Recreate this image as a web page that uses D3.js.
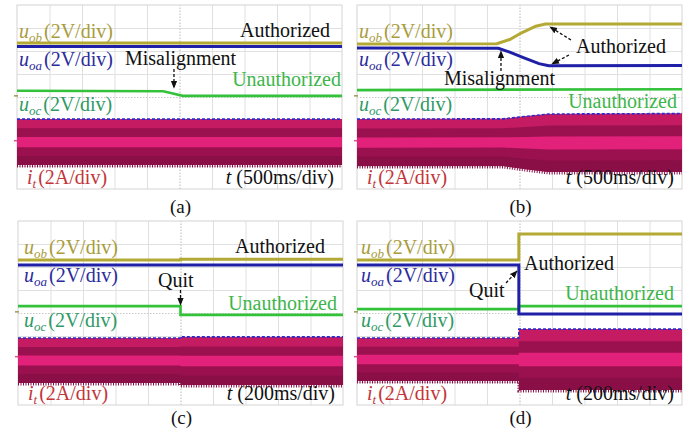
<!DOCTYPE html>
<html>
<head>
<meta charset="utf-8">
<script src="https://cdn.jsdelivr.net/npm/d3@7"></script>
<style>
  body { margin: 0; background: #fff; }
  text { font-family: "Liberation Serif", "Times New Roman", serif; }
</style>
</head>
<body>
<div id="chart"></div>
<script>
// Scope traces, in screen divisions: t runs 0..10 across, v runs -4..4 about the centre line

// (a) misalignment, 500ms/div
const aUobT = [0, 10], aUobV = [2.35, 2.35];
const aUoaT = [0, 10], aUoaV = [2.2, 2.2];
const aUocT = [0, 4.5, 4.8, 5.1, 10], aUocV = [0.27, 0.25, 0.15, 0.05, 0.05];
const aItT = [0, 10], aItTop = [-0.96, -0.96], aItBot = [-2.96, -2.96];

// (b) misalignment, 500ms/div
const bUobT = [0, 4.3, 4.7, 5.05, 5.5, 5.8, 10], bUobV = [2.3, 2.32, 2.5, 2.78, 3.08, 3.17, 3.17];
const bUoaT = [0, 4.35, 4.7, 5.1, 5.6, 5.9, 10], bUoaV = [2.13, 2.12, 1.95, 1.72, 1.45, 1.36, 1.37];
const bUocT = [0, 10], bUocV = [0.3, 0.34];
const bItT = [0, 4.5, 5.2, 5.9, 10], bItTop = [-0.96, -0.95, -0.84, -0.74, -0.72], bItBot = [-3.0, -3.0, -3.14, -3.26, -3.26];

// (c) quit, 200ms/div
const cUobT = [0, 5.0, 5.0, 10], cUobV = [2.3, 2.3, 2.34, 2.34];
const cUoaT = [0, 10], cUoaV = [2.09, 2.09];
const cUocT = [0, 5.0, 5.0, 10], cUocV = [0.3, 0.3, -0.08, -0.08];
const cItT = [0, 5.0, 5.0, 10], cItTop = [-1.09, -1.09, -1.04, -1.04], cItBot = [-3.04, -3.04, -3.13, -3.13];

// (d) quit, 200ms/div
const dUobT = [0, 4.98, 4.98, 10], dUobV = [2.3, 2.3, 3.43, 3.43];
const dUoaT = [0, 4.98, 4.98, 10], dUoaV = [2.09, 2.09, -0.04, -0.04];
const dUocT = [0, 4.98, 4.98, 10], dUocV = [0.17, 0.17, 0.3, 0.3];
const dItT = [0, 4.98, 4.98, 10], dItTop = [-1.09, -1.09, -0.7, -0.7], dItBot = [-2.96, -2.96, -3.35, -3.35];

const timeLabels = ["500ms/div", "500ms/div", "200ms/div", "200ms/div"];
const captions = ["(a)", "(b)", "(c)", "(d)"];

const zip = (t, v) => t.map((d, i) => [d, v[i]]);
const band = (t, top, bot) => t.map((d, i) => ({ t: d, top: top[i], bot: bot[i] }));

const panels = [
  { x0: 17, y0: 5, uob: zip(aUobT, aUobV), uoa: zip(aUoaT, aUoaV), uoc: zip(aUocT, aUocV), it: band(aItT, aItTop, aItBot) },
  { x0: 357, y0: 5, uob: zip(bUobT, bUobV), uoa: zip(bUoaT, bUoaV), uoc: zip(bUocT, bUocV), it: band(bItT, bItTop, bItBot) },
  { x0: 18, y0: 221, uob: zip(cUobT, cUobV), uoa: zip(cUoaT, cUoaV), uoc: zip(cUocT, cUocV), it: band(cItT, cItTop, cItBot) },
  { x0: 357, y0: 221, uob: zip(dUobT, dUobV), uoa: zip(dUoaT, dUoaV), uoc: zip(dUocT, dUocV), it: band(dItT, dItTop, dItBot) }
];
const pw = 325, ph = 184;

const svg = d3.select("#chart").append("svg")
    .attr("width", 699)
    .attr("height", 433);

// arrow head for the dashed pointers
svg.append("defs").append("marker")
    .attr("id", "head")
    .attr("viewBox", "0 0 10 10")
    .attr("refX", 9).attr("refY", 5)
    .attr("markerWidth", 6).attr("markerHeight", 6)
    .attr("orient", "auto")
  .append("path")
    .attr("d", "M0,1 L10,5 L0,9 Z")
    .attr("fill", "#111");

const font = 20;

function scopeLabel(g, x, y, sym, sub, rest, color) {
  const t = g.append("text")
      .attr("x", x).attr("y", y)
      .attr("font-size", font)
      .attr("fill", color);
  t.append("tspan").attr("font-style", "italic").text(sym);
  t.append("tspan").attr("font-style", "italic").attr("font-size", 13).attr("dy", 4).text(sub);
  t.append("tspan").attr("dy", -4).attr("dx", 2).text(rest);
  return t;
}

function plainText(g, x, y, txt, color, anchor) {
  return g.append("text")
      .attr("x", x).attr("y", y)
      .attr("font-size", font)
      .attr("fill", color)
      .attr("text-anchor", anchor || "start")
      .text(txt);
}

function pointer(g, x1, y1, x2, y2) {
  g.append("line")
      .attr("x1", x1).attr("y1", y1)
      .attr("x2", x2).attr("y2", y2)
      .attr("stroke", "#111")
      .attr("stroke-width", 1.3)
      .attr("stroke-dasharray", "3,2")
      .attr("marker-end", "url(#head)");
}

panels.forEach((p, k) => {
  const x = d3.scaleLinear().domain([0, 10]).range([p.x0, p.x0 + pw]);
  const y = d3.scaleLinear().domain([-4, 4]).range([p.y0 + ph, p.y0]);
  const g = svg.append("g");

  // graticule
  g.append("g")
      .attr("transform", "translate(0," + (p.y0 + ph) + ")")
      .call(d3.axisBottom(x).tickValues(d3.range(1, 10)).tickSize(-ph).tickFormat(""))
      .call(a => a.select(".domain").remove())
      .call(a => a.selectAll("line")
          .attr("stroke", d => d === 5 ? "#b8b8b8" : "#e0e0e0")
          .attr("stroke-dasharray", d => d === 5 ? "1.5,1.5" : null));
  g.append("g")
      .attr("transform", "translate(" + p.x0 + ",0)")
      .call(d3.axisLeft(y).tickValues(d3.range(-3, 4)).tickSize(-pw).tickFormat(""))
      .call(a => a.select(".domain").remove())
      .call(a => a.selectAll("line")
          .attr("stroke", d => d === 0 ? "#c8c8c8" : "#e0e0e0")
          .attr("stroke-dasharray", d => d === 0 ? "1.5,1.5" : null));
  g.append("rect")
      .attr("x", p.x0).attr("y", p.y0)
      .attr("width", pw).attr("height", ph)
      .attr("fill", "none")
      .attr("stroke", "#d4d4d4");

  // channel level markers on the left edge
  g.append("line")
      .attr("x1", p.x0 - 3).attr("x2", p.x0 + 1)
      .attr("y1", y(0.05)).attr("y2", y(0.05))
      .attr("stroke", "#9a9a50").attr("stroke-width", 1.5);
  g.append("line")
      .attr("x1", p.x0 - 3).attr("x2", p.x0 + 1)
      .attr("y1", y(-1.9)).attr("y2", y(-1.9))
      .attr("stroke", "#e0508a").attr("stroke-width", 1.5);

  // current i_t: dense carrier drawn as a filled envelope
  const span = d => d.top - d.bot;
  const area = (lo, hi) => d3.area()
      .x(d => x(d.t))
      .y0(d => y(lo(d)))
      .y1(d => y(hi(d)));
  g.append("path").datum(p.it)
      .attr("fill", "#9b1150")
      .attr("d", area(d => d.bot, d => d.top));
  g.append("path").datum(p.it)
      .attr("fill", "#8a0f47")
      .attr("d", area(d => d.bot, d => d.bot + 0.2 * span(d)));
  g.append("path").datum(p.it)
      .attr("fill", "#c41b62")
      .attr("d", area(d => d.top - 0.2 * span(d), d => d.top));
  g.append("path").datum(p.it)
      .attr("fill", "#e2217a")
      .attr("d", area(d => (d.top + d.bot) / 2 - 0.11 * span(d), d => (d.top + d.bot) / 2 + 0.11 * span(d)));
  // ragged bottom edge
  g.append("path").datum(p.it)
      .attr("fill", "none")
      .attr("stroke", "#8a0f47")
      .attr("stroke-width", 3)
      .attr("stroke-dasharray", "1,1.5")
      .attr("d", d3.line().x(d => x(d.t)).y(d => y(d.bot) + 1));
  // blue dashed envelope on top
  g.append("path").datum(p.it)
      .attr("fill", "none")
      .attr("stroke", "#2a2ad0")
      .attr("stroke-width", 1.6)
      .attr("stroke-dasharray", "3,2")
      .attr("d", d3.line().x(d => x(d.t)).y(d => y(d.top)));

  const trace = d3.line().x(d => x(d[0])).y(d => y(d[1]));
  g.append("path").datum(p.uoc)
      .attr("fill", "none").attr("stroke", "#33c23a").attr("stroke-width", 2.6)
      .attr("d", trace);
  g.append("path").datum(p.uoa)
      .attr("fill", "none").attr("stroke", "#1f1fa8").attr("stroke-width", 3)
      .attr("d", trace);
  g.append("path").datum(p.uob)
      .attr("fill", "none").attr("stroke", "#b4a935").attr("stroke-width", 3)
      .attr("d", trace);

  // channel labels
  const lx = p.x0 + (k === 2 ? 6 : k === 3 ? 4 : 2);
  scopeLabel(g, lx, p.y0 + 33, "u", "ob", "(2V/div)", "#a99c3c");
  scopeLabel(g, lx, p.y0 + 61, "u", "oa", "(2V/div)", "#2c2c9c");
  scopeLabel(g, lx, p.y0 + 106, "u", "oc", "(2V/div)", "#2f9a66");
  scopeLabel(g, p.x0 + 10, p.y0 + 179, "i", "t", "(2A/div)", "#c2363a");

  const tl = g.append("text")
      .attr("x", p.x0 + 317).attr("y", p.y0 + 179)
      .attr("font-size", font)
      .attr("fill", "#111")
      .attr("text-anchor", "end");
  tl.append("tspan").attr("font-style", "italic").text("t");
  tl.append("tspan").text(" (" + timeLabels[k] + ")");

  svg.append("text")
      .attr("x", p.x0 + pw / 2 + 1)
      .attr("y", p.y0 + ph + (k > 1 ? 19 : 24))
      .attr("font-size", 19)
      .attr("fill", "#111")
      .attr("text-anchor", "middle")
      .text(captions[k]);

  // annotations
  if (k === 0) {
    plainText(g, p.x0 + 313, p.y0 + 32, "Authorized", "#111", "end");
    plainText(g, p.x0 + 108, p.y0 + 60, "Misalignment", "#111");
    pointer(g, x(4.83), p.y0 + 64, x(4.83), p.y0 + 83);
    plainText(g, p.x0 + 324, p.y0 + 81, "Unauthorized", "#3db54a", "end");
  } else if (k === 1) {
    plainText(g, p.x0 + 219, p.y0 + 48, "Authorized", "#111");
    pointer(g, p.x0 + 214, p.y0 + 35, p.x0 + 193, p.y0 + 22);
    pointer(g, p.x0 + 212, p.y0 + 50, p.x0 + 195, p.y0 + 59);
    plainText(g, p.x0 + 87, p.y0 + 80, "Misalignment", "#111");
    pointer(g, x(4.43), p.y0 + 66, x(4.43), p.y0 + 46);
    plainText(g, p.x0 + 320, p.y0 + 103, "Unauthorized", "#3db54a", "end");
  } else if (k === 2) {
    plainText(g, p.x0 + 307, p.y0 + 32, "Authorized", "#111", "end");
    plainText(g, p.x0 + 140, p.y0 + 66, "Quit", "#111");
    pointer(g, x(5.0), p.y0 + 69, x(5.0), p.y0 + 84);
    plainText(g, p.x0 + 319, p.y0 + 89, "Unauthorized", "#3db54a", "end");
  } else {
    plainText(g, p.x0 + 167, p.y0 + 49, "Authorized", "#111");
    plainText(g, p.x0 + 112, p.y0 + 76, "Quit", "#111");
    pointer(g, p.x0 + 149, p.y0 + 62, p.x0 + 160, p.y0 + 50);
    plainText(g, p.x0 + 317, p.y0 + 79, "Unauthorized", "#3db54a", "end");
  }
});
</script>
</body>
</html>
